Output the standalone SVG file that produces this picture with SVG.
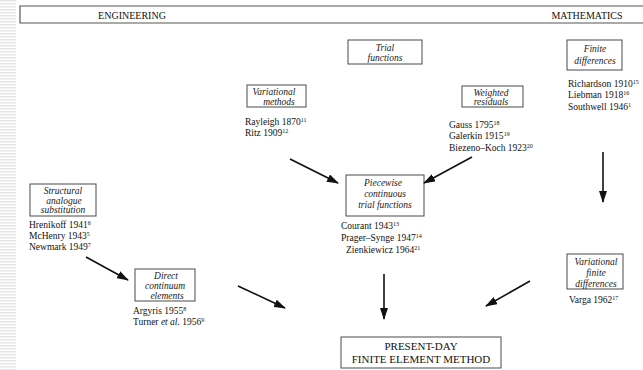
<svg xmlns="http://www.w3.org/2000/svg" width="643" height="370" viewBox="0 0 643 370">
<defs>
<pattern id="stripes" x="0" y="0" width="16" height="3" patternUnits="userSpaceOnUse">
<rect x="0" y="0" width="16" height="1.5" fill="#e6e6e6"/>
</pattern>
<marker id="ahl" markerWidth="12" markerHeight="8" refX="11" refY="4" orient="auto" markerUnits="userSpaceOnUse">
<path d="M0,0 L12,4 L0,8 Z" fill="#111"/>
</marker>
</defs>
<style>
.box{fill:#fff;stroke:#4a4a4a;stroke-width:1}
.it{font-family:"Liberation Serif",serif;font-style:italic;font-size:9.5px;fill:#1a1a1a;text-anchor:middle}
.ref{font-family:"Liberation Serif",serif;font-size:9.5px;fill:#111}
.hd{font-family:"Liberation Serif",serif;font-size:10px;fill:#111}
.big{font-family:"Liberation Serif",serif;font-size:11px;fill:#111;text-anchor:middle}
.sup{font-size:6px}
.conn line{stroke:#111;stroke-width:1.6;marker-end:url(#ahl)}
</style>
<rect x="0" y="0" width="643" height="370" fill="#fff"/>
<rect x="0" y="0" width="16" height="370" fill="url(#stripes)"/>
<g id="banner">
<path d="M643,6 L20,6 L20,23 L643,23" fill="none" stroke="#555" stroke-width="1.2"/>
<text class="hd" x="132" y="19" text-anchor="middle">ENGINEERING</text>
<text class="hd" x="587" y="19" text-anchor="middle">MATHEMATICS</text>
</g>
<g id="trial">
<rect class="box" x="348" y="40" width="74" height="24"/>
<text class="it" x="385" y="51">Trial</text>
<text class="it" x="385" y="61">functions</text>
</g>
<g id="finite">
<rect class="box" x="567" y="40" width="55" height="30"/>
<text class="it" x="595" y="52">Finite</text>
<text class="it" x="595" y="64">differences</text>
<text class="ref" x="568" y="87">Richardson 1910<tspan class="sup" dy="-3.5">15</tspan></text>
<text class="ref" x="568" y="98">Liebman 1918<tspan class="sup" dy="-3.5">16</tspan></text>
<text class="ref" x="568" y="110">Southwell 1946<tspan class="sup" dy="-3.5">1</tspan></text>
</g>
<g id="variational">
<rect class="box" x="247" y="85" width="59" height="22"/>
<text class="it" x="274" y="95">Variational</text>
<text class="it" x="279" y="104.5">methods</text>
<text class="ref" x="245" y="125">Rayleigh 1870<tspan class="sup" dy="-3.5">11</tspan></text>
<text class="ref" x="245" y="136">Ritz 1909<tspan class="sup" dy="-3.5">12</tspan></text>
</g>
<g id="weighted">
<rect class="box" x="462" y="86" width="61" height="21"/>
<text class="it" x="491" y="96">Weighted</text>
<text class="it" x="491" y="105">residuals</text>
<text class="ref" x="449" y="128">Gauss 1795<tspan class="sup" dy="-3.5">18</tspan></text>
<text class="ref" x="449" y="139">Galerkin 1915<tspan class="sup" dy="-3.5">19</tspan></text>
<text class="ref" x="449" y="151">Biezeno–Koch 1923<tspan class="sup" dy="-3.5">20</tspan></text>
</g>
<g id="piecewise">
<rect class="box" x="346" y="175" width="78" height="41"/>
<text class="it" x="383" y="186">Piecewise</text>
<text class="it" x="385" y="197">continuous</text>
<text class="it" x="385" y="208">trial functions</text>
<text class="ref" x="341" y="229">Courant 1943<tspan class="sup" dy="-3.5">13</tspan></text>
<text class="ref" x="341" y="241">Prager–Synge 1947<tspan class="sup" dy="-3.5">14</tspan></text>
<text class="ref" x="346" y="253">Zienkiewicz 1964<tspan class="sup" dy="-3.5">21</tspan></text>
</g>
<g id="structural">
<rect class="box" x="30" y="184" width="66" height="32"/>
<text class="it" x="63" y="194">Structural</text>
<text class="it" x="64" y="203.5">analogue</text>
<text class="it" x="63" y="213">substitution</text>
<text class="ref" x="29" y="228">Hrenikoff 1941<tspan class="sup" dy="-3.5">6</tspan></text>
<text class="ref" x="29" y="239">McHenry 1943<tspan class="sup" dy="-3.5">5</tspan></text>
<text class="ref" x="29" y="250">Newmark 1949<tspan class="sup" dy="-3.5">7</tspan></text>
</g>
<g id="direct">
<rect class="box" x="135" y="269" width="60" height="32"/>
<text class="it" x="166" y="279">Direct</text>
<text class="it" x="165" y="289">continuum</text>
<text class="it" x="167" y="299">elements</text>
<text class="ref" x="133" y="314">Argyris 1955<tspan class="sup" dy="-3.5">8</tspan></text>
<text class="ref" x="133" y="325">Turner <tspan font-style="italic">et al.</tspan> 1956<tspan class="sup" dy="-3.5">9</tspan></text>
</g>
<g id="varfinite">
<rect class="box" x="567" y="254" width="56" height="35"/>
<text class="it" x="596" y="265">Variational</text>
<text class="it" x="596" y="276">finite</text>
<text class="it" x="596" y="287">differences</text>
<text class="ref" x="569" y="303">Varga 1962<tspan class="sup" dy="-3.5">17</tspan></text>
</g>
<g id="present">
<rect class="box" x="341" y="337" width="160" height="31"/>
<text class="big" x="421" y="350">PRESENT-DAY</text>
<text class="big" x="421" y="363">FINITE ELEMENT METHOD</text>
</g>
<g id="connectors" class="conn">
<line x1="290" y1="159" x2="338" y2="183"/>
<line x1="472" y1="157" x2="424" y2="183"/>
<line x1="603" y1="152" x2="603" y2="202"/>
<line x1="86" y1="257" x2="128" y2="280"/>
<line x1="238" y1="286" x2="285" y2="308"/>
<line x1="384" y1="274" x2="384" y2="319"/>
<line x1="530" y1="281" x2="486" y2="306"/>
</g>
</svg>
